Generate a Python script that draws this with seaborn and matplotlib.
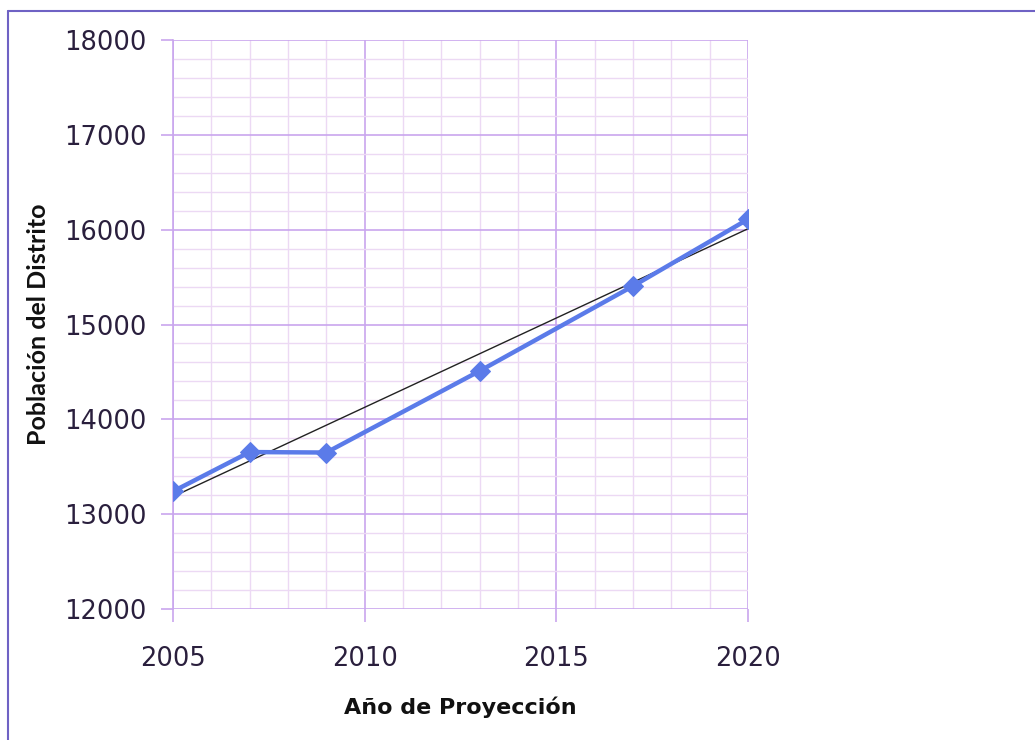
import matplotlib
matplotlib.use("Agg")
import matplotlib.pyplot as plt
from matplotlib.ticker import MultipleLocator
from matplotlib.lines import Line2D
import seaborn as sns
import pandas as pd

years = [2005, 2007, 2009, 2013, 2017, 2020]
population = [13240, 13655, 13650, 14510, 15405, 16110]
trend_years = [2005, 2020]
trend_values = [13185, 16010]
x_ticks = [2005, 2010, 2015, 2020]
y_ticks = [12000, 13000, 14000, 15000, 16000, 17000, 18000]
x_label = "Año de Proyección"
y_label = "Población del Distrito"

sns.set_theme(style="white")
plt.rcParams['font.family'] = ['DejaVu Sans']

df = pd.DataFrame({"year": years, "pop": population})
tdf = pd.DataFrame({"year": trend_years, "pop": trend_values})

fig = plt.figure(figsize=(10.35, 7.4), dpi=100)
ax = fig.add_axes([173/1035, 1-609/740, (748-173)/1035, (609-40)/740])

major_c = "#c9a6ee"
minor_c = "#ecd9f4"
ax.xaxis.set_minor_locator(MultipleLocator(1))
ax.yaxis.set_minor_locator(MultipleLocator(200))
ax.grid(which="minor", color=minor_c, linewidth=1.0)
ax.grid(which="major", color=major_c, linewidth=1.2)
ax.set_axisbelow(True)

sns.lineplot(data=tdf, x="year", y="pop", ax=ax, color="#222222", linewidth=1.0, zorder=3)
sns.lineplot(data=df, x="year", y="pop", ax=ax, color="#5b7be9", linewidth=3.2,
             marker="D", markersize=10, markeredgecolor="#5b7be9", zorder=4)

ax.set_xlim(2005, 2020)
ax.set_ylim(12000, 18000)
ax.set_xticks(x_ticks)
ax.set_yticks(y_ticks)
ax.set_xticklabels([str(v) for v in x_ticks])
ax.set_yticklabels([str(v) for v in y_ticks])
ax.tick_params(axis="both", which="major", bottom=True, left=True, length=9, width=1.2,
               color=major_c, labelsize=18.5, labelcolor="#2a1f3d", direction="out")
ax.tick_params(axis="both", which="minor", length=0)
ax.tick_params(axis="x", pad=18)
ax.tick_params(axis="y", pad=10)

for side in ["top", "right", "bottom"]:
    ax.spines[side].set_visible(False)
ax.spines["left"].set_color(major_c)
ax.spines["left"].set_linewidth(1.2)

ax.set_xlabel(x_label, fontsize=16, fontweight="bold", color="#111111", labelpad=17,
              family=["DejaVu Sans"])
ax.set_ylabel(y_label, fontsize=18, fontweight="bold", color="#111111", labelpad=10,
              family=["Lato", "DejaVu Sans"])

# outer chart border
fig.add_artist(Line2D([8/1035, 8/1035], [0, 1-11/740], transform=fig.transFigure,
                      color="#6f62c4", linewidth=1.5))
fig.add_artist(Line2D([8/1035, 1], [1-11/740, 1-11/740], transform=fig.transFigure,
                      color="#6f62c4", linewidth=1.5))

fig.savefig("out.png", dpi=100)
